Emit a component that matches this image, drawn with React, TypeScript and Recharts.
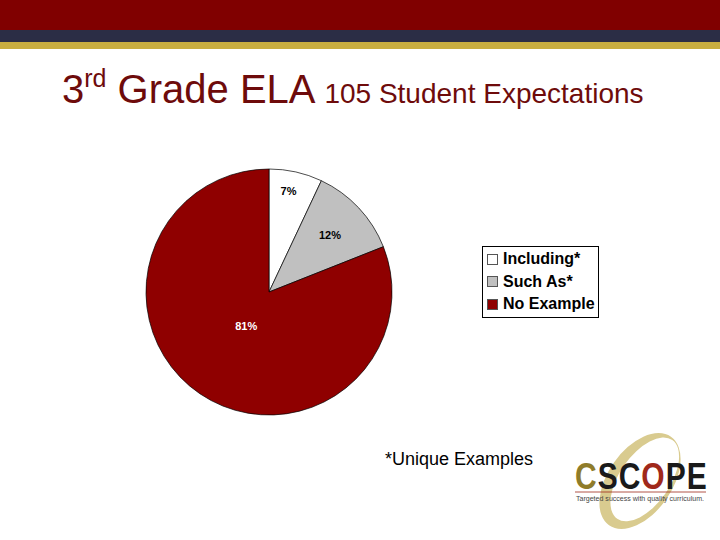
import React from "react";
import { PieChart, Pie, Cell, Legend } from "recharts";

const categories = ["Including*", "Such As*", "No Example"];
const values = [7, 12, 81];
const percentLabels = ["7%", "12%", "81%"];
const colors = ["#ffffff", "#c0c0c0", "#8f0000"];
const labelColors = ["#000000", "#000000", "#ffffff"];

const data = categories.map((name, i) => ({ name, value: values[i] }));

const RAD = Math.PI / 180;
const labelRadiusFrac = [0.84, 0.68, 0.33];

const renderLabel = (props: any) => {
  const { cx, cy, midAngle, outerRadius, index } = props;
  const r = outerRadius * labelRadiusFrac[index];
  const x = cx + r * Math.cos(-midAngle * RAD) - (index === 0 ? 3 : 0);
  const y = cy + r * Math.sin(-midAngle * RAD);
  return (
    <text
      x={x}
      y={y}
      fill={labelColors[index]}
      textAnchor="middle"
      dominantBaseline="central"
      fontFamily="Liberation Sans, Arial, sans-serif"
      fontWeight="bold"
      fontSize={11}
    >
      {percentLabels[index]}
    </text>
  );
};

const renderLegend = () => {
  return (
    <div
      style={{
        border: "1px solid #000",
        background: "#fff",
        padding: "1px 3px 1px 4px",
        width: 108,
        fontFamily: "Liberation Sans, Arial, sans-serif",
        fontWeight: "bold",
        fontSize: 16,
        lineHeight: "22.5px",
      }}
    >
      {categories.map((name, i) => (
        <div key={name} style={{ display: "flex", alignItems: "center", whiteSpace: "nowrap" }}>
          <span
            style={{
              display: "inline-block",
              width: 11,
              height: 11,
              border: "1px solid #555",
              background: colors[i],
              marginRight: 5,
              boxSizing: "border-box",
            }}
          />
          {name}
        </div>
      ))}
    </div>
  );
};

const logoLetters = [
  { ch: "C", em: 0.722, fill: "#8f7c2a" },
  { ch: "S", em: 0.667, fill: "#1a1a1a" },
  { ch: "C", em: 0.722, fill: "#1a1a1a" },
  { ch: "O", em: 0.778, fill: "#a0281a" },
  { ch: "P", em: 0.667, fill: "#1a1a1a" },
  { ch: "E", em: 0.667, fill: "#1a1a1a" },
];
const LOGO_FS = 30;

export default function App() {
  let lx = 15;
  const letters = logoLetters.map((l, i) => {
    const el = (
      <text
        key={i}
        x={lx}
        y={0}
        fontFamily="Liberation Sans, Arial, sans-serif"
        fontWeight="bold"
        fontSize={LOGO_FS}
        fill={l.fill}
      >
        {l.ch}
      </text>
    );
    lx += l.em * LOGO_FS + 1;
    return el;
  });
  return (
    <div
      style={{
        position: "fixed",
        left: 0,
        top: 0,
        width: 720,
        height: 540,
        background: "#fff",
        overflow: "hidden",
        fontFamily: "Liberation Sans, Arial, sans-serif",
      }}
    >
      <div style={{ position: "absolute", left: 0, top: 0, width: 720, height: 30, background: "#800000" }} />
      <div style={{ position: "absolute", left: 0, top: 30, width: 720, height: 12, background: "#2b2d45" }} />
      <div style={{ position: "absolute", left: 0, top: 42, width: 720, height: 7, background: "#c8ad40" }} />

      <div
        style={{
          position: "absolute",
          left: 62,
          top: 66,
          color: "#6e0b0b",
          whiteSpace: "nowrap",
          fontFamily: "Liberation Sans, Arial, sans-serif",
          lineHeight: "46px",
        }}
      >
        <span style={{ fontSize: 40 }}>3</span>
        <span style={{ fontSize: 25, position: "relative", top: -16 }}>rd</span>
        <span style={{ fontSize: 40 }}> Grade ELA </span>
        <span style={{ fontSize: 28 }}>105 Student Expectations</span>
      </div>

      <div style={{ position: "absolute", left: 0, top: 0 }}>
        <PieChart width={720} height={540}>
          <Pie
            data={data}
            dataKey="value"
            nameKey="name"
            cx={264}
            cy={287}
            outerRadius={123}
            startAngle={90}
            endAngle={-270}
            stroke="#000"
            strokeWidth={0.7}
            label={renderLabel}
            labelLine={false}
            isAnimationActive={false}
          >
            {data.map((d, i) => (
              <Cell key={d.name} fill={colors[i]} />
            ))}
          </Pie>
          <Legend
            content={renderLegend}
            layout="vertical"
            wrapperStyle={{ position: "absolute", left: 482, top: 246, width: 118 }}
          />
        </PieChart>
      </div>

      <div
        style={{
          position: "absolute",
          left: 385,
          top: 449,
          fontSize: 18,
          color: "#000",
          fontFamily: "Liberation Sans, Arial, sans-serif",
        }}
      >
        *Unique Examples
      </div>

      <svg style={{ position: "absolute", left: 560, top: 425 }} width={160} height={115}>
        <g transform="rotate(35 80 56)">
          <path
            fillRule="evenodd"
            fill="#d9cb8f"
            d="M 48 56 A 32 54 0 1 0 112 56 A 32 54 0 1 0 48 56 Z M 58 52 A 25 48 0 1 0 108 52 A 25 48 0 1 0 58 52 Z"
          />
        </g>
        <g transform="translate(0 64) scale(1 1.2)">{letters}</g>
        <line x1={15} y1={67} x2={146} y2={67} stroke="#a0281a" strokeWidth={0.8} />
        <text
          x={16}
          y={76}
          fontFamily="Liberation Sans, Arial, sans-serif"
          fontSize={7}
          fill="#444"
          textLength={128}
          lengthAdjust="spacingAndGlyphs"
        >
          Targeted success with quality curriculum.
        </text>
      </svg>
    </div>
  );
}
